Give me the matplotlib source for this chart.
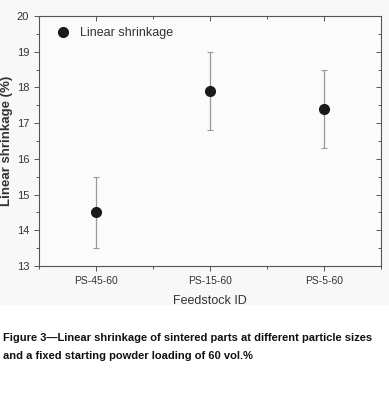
import matplotlib
matplotlib.use('Agg')
import matplotlib.pyplot as plt
from matplotlib.patches import Rectangle
from matplotlib.ticker import MultipleLocator

feedstocks = ['PS-45-60', 'PS-15-60', 'PS-5-60']
shrinkage = [14.5, 17.9, 17.4]
err_low = [1.0, 1.1, 1.1]
err_high = [1.0, 1.1, 1.1]

plt.rcParams['font.family'] = ['Liberation Sans', 'DejaVu Sans']
txt = '#333333'
axc = '#555555'

fig = plt.figure(figsize=(3.89, 3.93), dpi=100)
# light grey panel behind the chart
fig.patches.append(Rectangle((0, 88 / 393), 1, 1, transform=fig.transFigure,
                             facecolor='#f8f8f8', edgecolor='none', zorder=-10))

ax = fig.add_axes([39 / 389, 127 / 393, 342 / 389, 250 / 393])
ax.set_facecolor('#fbfbfb')
x = list(range(len(feedstocks)))
ax.errorbar(x, shrinkage, yerr=[err_low, err_high], fmt='none', ecolor='#999999',
            elinewidth=0.9, capsize=2.5, capthick=0.8, zorder=2)
ax.plot(x, shrinkage, 'o', color='#1a1a1a', markersize=7, zorder=3,
        label='Linear shrinkage')

ax.set_xlim(-0.5, 2.5)
ax.set_ylim(13, 20)
ax.set_xticks(x)
ax.set_xticklabels(feedstocks)
ax.xaxis.set_minor_locator(MultipleLocator(0.5))
ax.yaxis.set_major_locator(MultipleLocator(1))
ax.yaxis.set_minor_locator(MultipleLocator(0.5))
ax.tick_params(axis='both', which='both', colors=axc, labelcolor=txt, labelsize=7.5,
               width=0.7, direction='out', top=True, right=True)
ax.tick_params(axis='y', labelsize=8)
ax.tick_params(which='major', length=3.5)
ax.tick_params(which='minor', length=2.5)
# top and right ticks point inward
for t in ax.xaxis.get_major_ticks() + ax.xaxis.get_minor_ticks():
    t.tick2line.set_marker(3)
for t in ax.yaxis.get_major_ticks() + ax.yaxis.get_minor_ticks():
    t.tick2line.set_marker(0)
for s in ax.spines.values():
    s.set_color(axc)
    s.set_linewidth(0.8)

ax.set_xlabel('Feedstock ID', fontsize=9, color=txt, labelpad=7)
ax.set_ylabel('Linear shrinkage (%)', fontsize=9.5, fontweight='bold', color=txt, labelpad=3)
ax.legend(loc='upper left', frameon=False, fontsize=9, handletextpad=0.4,
          borderaxespad=0.5, labelcolor=txt)

fig.text(3 / 389, 1 - 338 / 393, 'Figure 3\u2014Linear shrinkage of sintered parts at different particle sizes',
         fontsize=8, fontweight='bold', color='#111111', va='center')
fig.text(3 / 389, 1 - 356 / 393, 'and a fixed starting powder loading of 60 vol.%',
         fontsize=8, fontweight='bold', color='#111111', va='center')

fig.savefig('out.png', dpi=100)
